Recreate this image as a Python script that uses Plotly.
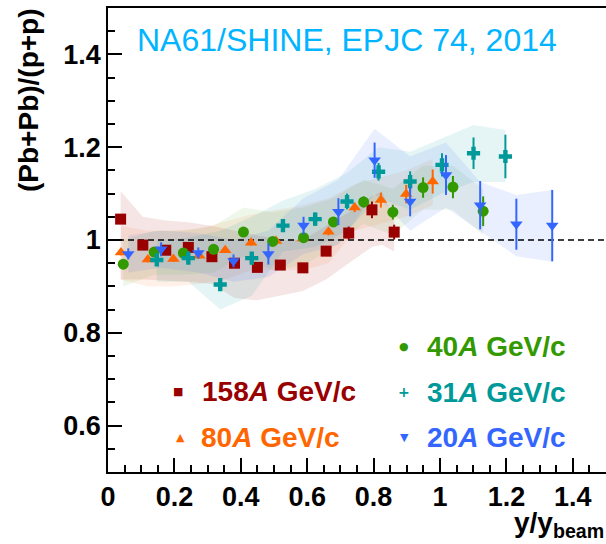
import plotly.graph_objects as go

# ---------------- data ----------------
x158 = [0.038, 0.105, 0.174, 0.242, 0.313, 0.381, 0.450, 0.519, 0.587, 0.657, 0.725, 0.795, 0.862]
y158 = [1.045, 0.989, 0.978, 0.984, 0.964, 0.950, 0.941, 0.946, 0.940, 0.976, 1.015, 1.065, 1.017]
e158 = [0.005, 0.005, 0.005, 0.005, 0.005, 0.005, 0.005, 0.005, 0.005, 0.006, 0.014, 0.018, 0.016]

x80 = [0.039, 0.120, 0.197, 0.275, 0.353, 0.431, 0.506, 0.587, 0.664, 0.743, 0.822, 0.898, 0.978]
y80 = [0.973, 0.958, 0.959, 0.966, 0.978, 0.994, 0.998, 1.003, 1.018, 1.070, 1.086, 1.099, 1.126]
e80 = [0.006, 0.006, 0.006, 0.006, 0.006, 0.006, 0.006, 0.006, 0.008, 0.010, 0.016, 0.020, 0.026]

x40 = [0.046, 0.139, 0.227, 0.318, 0.408, 0.496, 0.589, 0.679, 0.770, 0.858, 0.949, 1.039, 1.130]
y40 = [0.948, 0.974, 0.972, 0.980, 1.017, 0.997, 1.005, 1.039, 1.082, 1.060, 1.113, 1.114, 1.062]
e40 = [0.006, 0.006, 0.006, 0.006, 0.006, 0.006, 0.006, 0.008, 0.012, 0.016, 0.022, 0.024, 0.032]

x31 = [0.147, 0.242, 0.338, 0.433, 0.527, 0.624, 0.720, 0.815, 0.910, 1.006, 1.101, 1.197]
y31 = [0.957, 0.961, 0.904, 0.961, 1.031, 1.045, 1.083, 1.147, 1.126, 1.162, 1.187, 1.180]
e31 = [0.008, 0.008, 0.008, 0.010, 0.012, 0.014, 0.017, 0.019, 0.022, 0.025, 0.034, 0.047]

x20 = [0.061, 0.160, 0.272, 0.378, 0.483, 0.589, 0.694, 0.803, 0.910, 1.018, 1.121, 1.230, 1.338]
y20 = [0.970, 0.980, 0.972, 0.955, 0.970, 1.031, 1.061, 1.172, 1.083, 1.140, 1.075, 1.034, 1.031]
e20 = [0.012, 0.015, 0.012, 0.014, 0.023, 0.019, 0.029, 0.038, 0.032, 0.043, 0.052, 0.055, 0.077]

# systematic-uncertainty bands
b158_x = [0.038, 0.105, 0.174, 0.242, 0.313, 0.381, 0.450, 0.519, 0.587, 0.657, 0.725, 0.795, 0.825, 0.862]
b158_hi = [1.105, 1.050, 1.042, 1.038, 1.030, 1.020, 1.010, 1.000, 1.000, 1.030, 1.060, 1.095, 1.105, 1.040]
b158_lo = [0.915, 0.915, 0.912, 0.910, 0.905, 0.875, 0.870, 0.880, 0.890, 0.915, 0.950, 0.985, 0.990, 0.975]

b80_x = [0.039, 0.120, 0.197, 0.275, 0.353, 0.431, 0.506, 0.587, 0.664, 0.743, 0.822, 0.898, 0.978]
b80_hi = [1.030, 1.020, 1.020, 1.025, 1.040, 1.055, 1.065, 1.075, 1.090, 1.120, 1.135, 1.150, 1.175]
b80_lo = [0.915, 0.900, 0.900, 0.905, 0.915, 0.935, 0.935, 0.935, 0.950, 1.020, 1.035, 1.050, 1.075]

b40_x = [0.046, 0.139, 0.227, 0.318, 0.408, 0.496, 0.589, 0.679, 0.770, 0.858, 0.949, 1.039, 1.130]
b40_hi = [1.000, 1.020, 1.020, 1.030, 1.070, 1.060, 1.070, 1.090, 1.130, 1.110, 1.160, 1.160, 1.110]
b40_lo = [0.900, 0.925, 0.925, 0.930, 0.965, 0.935, 0.945, 0.985, 1.035, 1.010, 1.065, 1.065, 1.010]

b31_x = [0.147, 0.242, 0.338, 0.433, 0.527, 0.624, 0.720, 0.815, 0.910, 1.006, 1.101, 1.197]
b31_hi = [1.000, 1.005, 1.020, 1.050, 1.085, 1.110, 1.145, 1.200, 1.190, 1.220, 1.248, 1.237]
b31_lo = [0.910, 0.910, 0.850, 0.880, 0.975, 0.985, 1.020, 1.090, 1.065, 1.100, 1.125, 1.125]

b20_x = [0.061, 0.160, 0.272, 0.378, 0.483, 0.589, 0.694, 0.803, 0.910, 1.018, 1.121, 1.230, 1.338]
b20_hi = [1.010, 1.020, 1.015, 1.000, 1.020, 1.090, 1.130, 1.240, 1.180, 1.210, 1.125, 1.097, 1.108]
b20_lo = [0.930, 0.940, 0.930, 0.910, 0.920, 0.970, 0.990, 1.100, 1.020, 1.070, 1.020, 0.965, 0.953]

labels = ["158", "80", "40", "31", "20"]
colors = ["#990000", "#FF6600", "#339900", "#009999", "#3366FF"]
band_rgba = ["rgba(153,0,0,0.10)", "rgba(255,102,0,0.09)", "rgba(51,153,0,0.08)",
             "rgba(0,153,153,0.10)", "rgba(51,102,255,0.10)"]
symbols = ["square", "triangle-up", "circle", "cross", "triangle-down"]

series = [
    (x158, y158, e158, b158_x, b158_lo, b158_hi),
    (x80, y80, e80, b80_x, b80_lo, b80_hi),
    (x40, y40, e40, b40_x, b40_lo, b40_hi),
    (x31, y31, e31, b31_x, b31_lo, b31_hi),
    (x20, y20, e20, b20_x, b20_lo, b20_hi),
]

FONT = "Liberation Sans"

fig = go.Figure()

# bands
for (xs, ys, es, bx, blo, bhi), c in zip(series, band_rgba):
    fig.add_trace(go.Scatter(
        x=bx + bx[::-1], y=bhi + blo[::-1], fill="toself", fillcolor=c,
        line=dict(width=0), mode="lines", hoverinfo="skip", showlegend=False))

# reference line at 1
fig.add_trace(go.Scatter(x=[0, 1.5], y=[1, 1], mode="lines",
                         line=dict(color="black", width=1.5, dash="6px,4px"),
                         showlegend=False, hoverinfo="skip"))

# data points
draw_order = [0, 1, 2, 3, 4]
for i in draw_order:
    xs, ys, es, *_ = series[i]
    fig.add_trace(go.Scatter(
        x=xs, y=ys, mode="markers",
        error_y=dict(type="data", array=es, color=colors[i], thickness=2, width=0),
        marker=dict(symbol=symbols[i], size=11, color=colors[i], line=dict(width=0)),
        showlegend=False, name=labels[i]))

# ---------------- layout ----------------
L, R, T, B = 108, 0, 8, 72
W, H = 606, 544
pw, ph = W - L - R, H - T - B


def px(xp):
    return (xp - L) / pw


def py(yp):
    return (H - B - yp) / ph


axis_common = dict(
    showgrid=False, zeroline=False, showline=True, linecolor="black", linewidth=1.5,
    ticks="inside", ticklen=14, tickwidth=1.5, tickcolor="black",
    tickfont=dict(family=FONT, size=27, color="black", weight="bold"),
)

fig.update_layout(
    width=W, height=H, margin=dict(l=L, r=R, t=T, b=B),
    paper_bgcolor="white", plot_bgcolor="white",
    xaxis=dict(range=[0, 1.5], tick0=0, dtick=0.2, mirror=True,
               minor=dict(dtick=0.05, tick0=0, ticks="inside", ticklen=7, tickcolor="black", tickwidth=1.5),
               **axis_common),
    yaxis=dict(range=[0.5, 1.5], tick0=0, dtick=0.2,
               minor=dict(dtick=0.05, tick0=0, ticks="inside", ticklen=7, tickcolor="black", tickwidth=1.5),
               **axis_common),
)

annotations = []
# experiment label
annotations.append(dict(text="NA61/SHINE, EPJC 74, 2014", xref="paper", yref="paper",
                        x=px(347), y=py(40), xanchor="center", yanchor="middle", showarrow=False,
                        font=dict(family=FONT, size=32, color="#00B4FF")))
# axis titles
annotations.append(dict(text="(Pb+Pb)/(p+p)", xref="paper", yref="paper", textangle=-90,
                        x=px(28), y=py(100), xanchor="center", yanchor="middle", showarrow=False,
                        font=dict(family=FONT, size=28, color="black", weight="bold")))
annotations.append(dict(text="y/y<sub>beam</sub>", xref="paper", yref="paper",
                        x=px(606), y=py(524), xanchor="right", yanchor="middle", showarrow=False,
                        font=dict(family=FONT, size=28, color="black", weight="bold")))

# legend
legend_items = [
    # (series index, marker glyph, marker x, text x, y)
    (0, "\u25A0", 178, 200, 391),
    (1, "\u25B2", 180, 199, 437),
    (2, "\u25CF", 404, 425, 346),
    (3, "+", 404, 425, 392),
    (4, "\u25BC", 404, 425, 437),
]
for i, glyph, mx, tx, yy in legend_items:
    annotations.append(dict(text=glyph, xref="paper", yref="paper", x=px(mx), y=py(yy),
                            xanchor="center", yanchor="middle", showarrow=False,
                            font=dict(family="DejaVu Sans", size=11 if glyph != "+" else 14,
                                      color=colors[i], weight="bold")))
    annotations.append(dict(text=f"{labels[i]}<i>A</i> GeV/c", xref="paper", yref="paper",
                            x=px(tx), y=py(yy), xanchor="left", yanchor="middle", showarrow=False,
                            font=dict(family=FONT, size=28, color=colors[i], weight="bold")))

fig.update_layout(annotations=annotations)

fig.write_html("out.html")
